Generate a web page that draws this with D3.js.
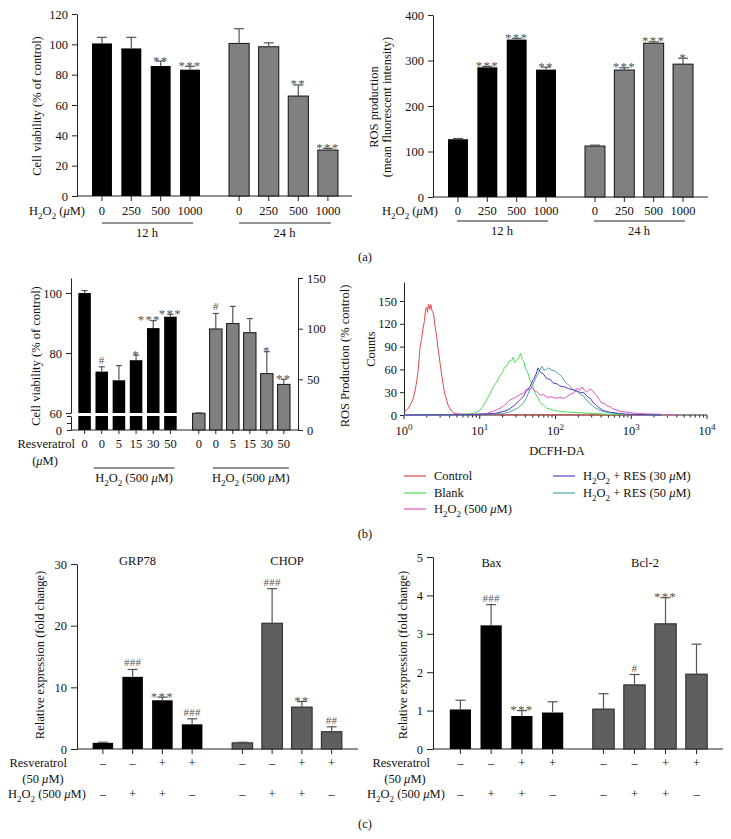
<!DOCTYPE html>
<html><head><meta charset="utf-8">
<script src="https://cdn.jsdelivr.net/npm/d3@7"></script>
<style>
body{margin:0;background:#fff}
text{font-family:"Liberation Serif","Times New Roman",serif;fill:#111}
</style>
</head><body>
<svg id="c" width="731" height="839"></svg>
<script>
// ---------------- DATA ----------------
// (a) left: cell viability
const aDoseLabels = ["0","250","500","1000"];
const aViabTicks = [0,20,40,60,80,100,120];
const aViab12 = [100.6, 97.3, 85.7, 83.3];
const aViab12Err = [4, 7.3, 3.3, 2.2];
const aViab12Sig = ["", "", "**", "***"];
const aViab24 = [100.6, 98.4, 65.9, 30.3];
const aViab24Err = [9.7, 2.6, 7.3, 1.1];
const aViab24Sig = ["", "", "**", "***"];
// (a) right: ROS production
const aRosTicks = [0,100,200,300,400];
const aRos12 = [127, 285, 346, 280];
const aRos12Err = [1.5, 2, 2.5, 5.5];
const aRos12Sig = ["", "***", "***", "**"];
const aRos24 = [112, 279, 338, 292];
const aRos24Err = [2, 5, 3, 13];
const aRos24Sig = ["", "***", "***", "*"];
// (b) left: viability (broken left axis) and ROS (right axis)
const bResLabels = ["0","0","5","15","30","50"];
const bViabTicks = [60,80,100];
const bViab = [100, 73.8, 70.9, 77.6, 88.3, 92.1];
const bViabErr = [0.8, 1.6, 4.9, 1.7, 2.5, 0.8];
const bViabSig = ["", "#", "", "*", "***", "***"];
const bRosTicks = [0,50,100,150];
const bRos = [16.5, 99.7, 105, 96, 55.6, 45];
const bRosErr = [0.5, 15.3, 17, 14, 21.7, 5];
const bRosSig = ["", "#", "", "", "*", "**"];
// (b) right: flow cytometry histograms [log10 intensity, counts]
const flowYTicks = [0,30,60,90,120,150];
const flowCtrl = [[0,4],[0.03,6],[0.06,9],[0.09,15],[0.12,21],[0.15,34],[0.17,46],[0.19,61],[0.21,88],[0.23,99],[0.25,113],[0.27,124],[0.285,139],[0.3,142],[0.31,135],[0.325,146],[0.34,139],[0.355,145],[0.37,137],[0.39,133],[0.41,117],[0.43,104],[0.45,87],[0.475,69],[0.5,51],[0.52,38],[0.54,27],[0.56,21],[0.585,12],[0.61,8],[0.63,5],[0.65,3],[0.7,1.5],[0.8,1],[0.9,0.6],[1.2,0.4],[1.6,0.3],[2.2,0.2],[3.5,0]];
const flowBlank = [[0,0],[0.6,0.3],[0.8,1],[0.9,2],[0.95,3],[1.0,6],[1.04,11],[1.09,20],[1.13,27],[1.18,37],[1.22,43],[1.27,52],[1.3,56],[1.33,63],[1.36,65],[1.39,71],[1.42,72],[1.44,76],[1.46,69],[1.49,72],[1.51,75],[1.54,81],[1.56,73],[1.58,71],[1.6,62],[1.63,57],[1.66,47],[1.69,41],[1.73,29],[1.76,24],[1.8,16],[1.84,13],[1.88,9],[1.93,8],[1.97,6],[2.06,5],[2.15,4],[2.32,3],[2.5,2],[2.68,1],[2.9,0.5],[3.3,0.2],[3.5,0]];
const flowH2O2 = [[0,0],[0.74,0.5],[0.95,1],[1.09,2],[1.18,5],[1.27,9],[1.33,13],[1.4,20],[1.47,23],[1.53,27],[1.58,29],[1.62,34],[1.66,33],[1.69,36],[1.72,32],[1.75,31],[1.8,26],[1.84,27],[1.9,23],[1.95,24],[2.0,22],[2.06,23],[2.12,22],[2.19,27],[2.24,29],[2.28,35],[2.32,33],[2.35,37],[2.39,32],[2.41,30],[2.45,34],[2.48,33],[2.51,29],[2.54,26],[2.58,20],[2.61,16],[2.65,15],[2.68,12],[2.72,11],[2.76,8],[2.8,7],[2.85,5],[2.92,4],[2.98,3],[3.1,2],[3.2,1.5],[3.35,1],[3.47,0.5],[3.6,0]];
const flowRes30 = [[0,0],[0.9,0.5],[1.0,1],[1.2,2],[1.36,6],[1.45,12],[1.53,20],[1.58,25],[1.62,32],[1.66,37],[1.71,47],[1.74,53],[1.77,62],[1.8,56],[1.84,54],[1.88,48],[1.93,47],[1.97,42],[2.02,41],[2.06,38],[2.12,37],[2.19,34],[2.25,33],[2.32,30],[2.38,29],[2.42,24],[2.46,22],[2.5,16],[2.54,13],[2.58,9],[2.63,6],[2.7,4],[2.76,3],[2.85,2],[2.94,1],[3.1,0.5],[3.4,0]];
const flowRes50 = [[0,0],[0.9,0.5],[1.1,1],[1.3,2],[1.4,4],[1.5,9],[1.58,16],[1.62,23],[1.66,34],[1.7,40],[1.75,51],[1.78,57],[1.82,64],[1.85,59],[1.88,60],[1.91,62],[1.95,59],[1.99,58],[2.04,54],[2.08,51],[2.13,43],[2.19,38],[2.24,32],[2.28,31],[2.32,28],[2.37,25],[2.41,19],[2.46,15],[2.5,11],[2.55,8],[2.59,6],[2.66,4],[2.72,3],[2.8,2],[2.89,1],[3.1,0.5],[3.4,0]];
const flowNames = ["Control","Blank","H_2O_2 (500 ~μ~M)","H_2O_2 + RES (30 ~μ~M)","H_2O_2 + RES (50 ~μ~M)"];
const flowColors = ["#e04848","#4ee04e","#e055c4","#5a3cc4","#4aa8a8"];
// (c) left: ER stress genes
const cLeftTicks = [0,10,20,30];
const cGRP78 = [1.0, 11.7, 7.9, 4.0];
const cGRP78Err = [0.1, 1.2, 0.5, 0.9];
const cGRP78Sig = ["", "###", "***", "###"];
const cCHOP = [1.0, 20.4, 6.8, 2.8];
const cCHOPErr = [0.1, 5.6, 0.9, 0.8];
const cCHOPSig = ["", "###", "**", "##"];
// (c) right: apoptosis genes
const cRightTicks = [0,1,2,3,4,5];
const cBax = [1.03, 3.22, 0.86, 0.95];
const cBaxErr = [0.24, 0.54, 0.14, 0.28];
const cBaxSig = ["", "###", "***", ""];
const cBcl2 = [1.04, 1.67, 3.26, 1.95];
const cBcl2Err = [0.4, 0.27, 0.68, 0.78];
const cBcl2Sig = ["", "#", "***", ""];
const cResSigns = ["–","–","+","+"];
const cH2O2Signs = ["–","+","+","–"];

// ---------------- HELPERS ----------------
const svg = d3.select('#c');
svg.append('rect').attr('width',731).attr('height',839).attr('fill','#fff');
const FS = 12.5;
const ERR = '#555';
const fmtInt = d3.format('d');

function rich(t, s, size) {
  let italic = false, buf = '', pend = 0;
  const flush = () => {
    if (!buf) return;
    const sp = t.append('tspan').text(buf);
    if (italic) sp.attr('font-style','italic');
    if (pend) { sp.attr('dy', pend); pend = 0; }
    buf = '';
  };
  for (let i = 0; i < s.length; i++) {
    const c = s[i];
    if (c === '~') { flush(); italic = !italic; }
    else if (c === '_' || c === '^') {
      flush();
      const d = c === '_' ? size*0.28 : -size*0.42;
      const sp = t.append('tspan').attr('font-size', size*0.72).attr('dy', d + pend).text(s[++i]);
      if (italic) sp.attr('font-style','italic');
      pend = -d;
    } else buf += c;
  }
  flush();
}
function txt(x, y, s, o = {}) {
  const size = o.size || FS;
  const t = svg.append('text').attr('x', x).attr('y', y).attr('font-size', size)
    .attr('text-anchor', o.anchor || 'start');
  if (o.fill) t.style('fill', o.fill);
  if (o.rotate) t.attr('transform', `rotate(${o.rotate},${x},${y})`);
  rich(t, s, size);
  return t;
}
function styleAxis(g) {
  g.attr('font-size', FS).attr('font-family', null);
  g.selectAll('text').style('fill', '#111');
  g.selectAll('line,path').attr('stroke', '#222');
}
function hline(x1, x2, y, col = '#222') {
  svg.append('line').attr('x1', x1).attr('x2', x2).attr('y1', y).attr('y2', y).attr('stroke', col).attr('stroke-width', 1);
}
function xTicks(xb, y0, len = 5) {
  svg.append('g').selectAll('line').data(xb.domain()).join('line')
    .attr('x1', d => xb(d) + xb.bandwidth()/2).attr('x2', d => xb(d) + xb.bandwidth()/2)
    .attr('y1', y0).attr('y2', y0 + len).attr('stroke', '#222');
}
function sigText(g, data, cx, capY) {
  g.selectAll('text.sig').data(data).join('text').attr('class','sig')
    .attr('x', (d,i) => cx(i)).attr('y', (d,i) => d.includes('*') ? capY(i) + 3.5 : capY(i) - 3)
    .attr('text-anchor','middle').attr('font-size', d => d.includes('*') ? 13 : 11)
    .attr('letter-spacing', d => d.includes('*') ? 1.2 : 0.3)
    .style('fill', '#555').text(d => d);
}
function bars(xb, y, vals, errs, sigs, fill, stroke, capW, y0) {
  const g = svg.append('g');
  const idx = d3.range(vals.length);
  const cx = i => xb(i) + xb.bandwidth()/2;
  g.selectAll('rect').data(idx).join('rect')
    .attr('x', i => xb(i)).attr('width', xb.bandwidth())
    .attr('y', i => y(vals[i])).attr('height', i => y0 - y(vals[i]))
    .attr('fill', fill).attr('stroke', stroke).attr('stroke-width', stroke ? 1 : 0);
  g.selectAll('line.e').data(idx).join('line').attr('class','e')
    .attr('x1', cx).attr('x2', cx).attr('y1', i => y(vals[i])).attr('y2', i => y(vals[i] + errs[i]))
    .attr('stroke', ERR).attr('stroke-width', 1.2);
  g.selectAll('line.c').data(idx).join('line').attr('class','c')
    .attr('x1', i => cx(i) - capW).attr('x2', i => cx(i) + capW)
    .attr('y1', i => y(vals[i] + errs[i])).attr('y2', i => y(vals[i] + errs[i]))
    .attr('stroke', ERR).attr('stroke-width', 1.2);
  sigText(g, sigs, cx, i => y(vals[i] + errs[i]));
  return cx;
}
function band(r0, r1, n = 4, pin = 0.32) {
  return d3.scaleBand().domain(d3.range(n)).range([r0, r1]).paddingInner(pin).paddingOuter(pin/2);
}

// ---------------- PANEL (a) LEFT ----------------
{
  const y = d3.scaleLinear().domain([0,120]).range([196,14]);
  svg.append('g').attr('transform','translate(77,0)')
    .call(d3.axisLeft(y).tickValues(aViabTicks).tickFormat(fmtInt).tickSize(5).tickSizeOuter(0).tickPadding(4)).call(styleAxis);
  hline(77, 352, 196);
  const x1 = band(87.3, 204.7), x2 = band(224.3, 342.7);
  xTicks(x1, 196); xTicks(x2, 196);
  const c1 = bars(x1, y, aViab12, aViab12Err, aViab12Sig, '#000', null, 5, 196);
  const c2 = bars(x2, y, aViab24, aViab24Err, aViab24Sig, '#808080', '#111', 5, 196);
  aDoseLabels.forEach((d,i) => { txt(c1(i), 215, d, {anchor:'middle'}); txt(c2(i), 215, d, {anchor:'middle'}); });
  txt(85, 215, "H_2O_2 (~μ~M)", {anchor:'end'});
  hline(c1(0), c1(3) + 3, 223); hline(c2(0), c2(3) + 3, 223);
  txt((c1(0)+c1(3))/2 + 1, 237, "12 h", {anchor:'middle'});
  txt((c2(0)+c2(3))/2 + 1, 237, "24 h", {anchor:'middle'});
  txt(41, 106, "Cell viability (% of control)", {anchor:'middle', rotate:-90});
}
// ---------------- PANEL (a) RIGHT ----------------
{
  const y = d3.scaleLinear().domain([0,400]).range([197,15]);
  svg.append('g').attr('transform','translate(433,0)')
    .call(d3.axisLeft(y).tickValues(aRosTicks).tickFormat(fmtInt).tickSize(5).tickSizeOuter(0).tickPadding(4)).call(styleAxis);
  hline(433, 708, 197);
  const x1 = band(443.3, 560.7), x2 = band(580.3, 697.7);
  xTicks(x1, 197); xTicks(x2, 197);
  const c1 = bars(x1, y, aRos12, aRos12Err, aRos12Sig, '#000', null, 5, 197);
  const c2 = bars(x2, y, aRos24, aRos24Err, aRos24Sig, '#808080', '#111', 5, 197);
  aDoseLabels.forEach((d,i) => { txt(c1(i), 215, d, {anchor:'middle'}); txt(c2(i), 215, d, {anchor:'middle'}); });
  txt(438, 215, "H_2O_2 (~μ~M)", {anchor:'end'});
  hline(c1(0) - 1, c1(3) + 2, 221); hline(c2(0) - 1, c2(3) + 2, 221);
  txt((c1(0)+c1(3))/2, 235, "12 h", {anchor:'middle'});
  txt((c2(0)+c2(3))/2, 235, "24 h", {anchor:'middle'});
  txt(378, 107, "ROS production", {anchor:'middle', rotate:-90});
  txt(391, 107, "(mean fluorescent intensity)", {anchor:'middle', rotate:-90});
}
txt(365, 261, "(a)", {anchor:'middle'});

// ---------------- PANEL (b) LEFT ----------------
{
  const yU = d3.scaleLinear().domain([60,105]).range([413,278]);
  const yL = d3.scaleLinear().domain([0,60]).range([430,416]);
  const yR = d3.scaleLinear().domain([0,150]).range([430,278]);
  svg.append('g').attr('transform','translate(71,0)')
    .call(d3.axisLeft(yU).tickValues(bViabTicks).tickFormat(fmtInt).tickSize(5).tickSizeOuter(0).tickPadding(4)).call(styleAxis);
  svg.append('g').attr('transform','translate(71,0)')
    .call(d3.axisLeft(yL).tickValues([0,30,60]).tickFormat(d => d === 0 ? '0' : '').tickSize(4).tickSizeOuter(0).tickPadding(5)).call(styleAxis);
  svg.append('g').attr('transform','translate(298,0)')
    .call(d3.axisRight(yR).tickValues(bRosTicks).tickFormat(fmtInt).tickSize(5).tickSizeOuter(0).tickPadding(4)).call(styleAxis);
  hline(71, 298, 430);
  const xb = band(76, 179, 6, 0.27), xg = band(190.3, 292.3, 6, 0.27);
  xTicks(xb, 430, 4); xTicks(xg, 430, 4);
  const cb = i => xb(i) + xb.bandwidth()/2;
  const g = svg.append('g');
  const idx = d3.range(bViab.length);
  g.selectAll('rect.u').data(idx).join('rect').attr('class','u')
    .attr('x', i => xb(i)).attr('width', xb.bandwidth())
    .attr('y', i => yU(bViab[i])).attr('height', i => yU(60) - yU(bViab[i])).attr('fill', '#000');
  g.selectAll('rect.l').data(idx).join('rect').attr('class','l')
    .attr('x', i => xb(i)).attr('width', xb.bandwidth())
    .attr('y', yL(60)).attr('height', yL(0) - yL(60)).attr('fill', '#000');
  g.selectAll('line.e').data(idx).join('line').attr('class','e')
    .attr('x1', cb).attr('x2', cb).attr('y1', i => yU(bViab[i])).attr('y2', i => yU(bViab[i] + bViabErr[i]))
    .attr('stroke', ERR).attr('stroke-width', 1.2);
  g.selectAll('line.c').data(idx).join('line').attr('class','c')
    .attr('x1', i => cb(i) - 3).attr('x2', i => cb(i) + 3)
    .attr('y1', i => yU(bViab[i] + bViabErr[i])).attr('y2', i => yU(bViab[i] + bViabErr[i]))
    .attr('stroke', ERR).attr('stroke-width', 1.2);
  sigText(g, bViabSig, i => i === 4 ? cb(i) - 4 : cb(i), i => yU(bViab[i] + bViabErr[i]));
  const cg = bars(xg, yR, bRos, bRosErr, bRosSig, '#808080', '#111', 3, 430);
  bResLabels.forEach((d,i) => { txt(cb(i), 448, d, {anchor:'middle'}); txt(cg(i), 448, d, {anchor:'middle'}); });
  txt(75, 448, "Resveratrol", {anchor:'end'});
  txt(45, 465, "(~μ~M)", {anchor:'middle'});
  hline(cb(1) - 8, cb(5) + 4, 468); hline(cg(1) - 3, cg(5) + 5, 468);
  txt((cb(1)+cb(5))/2 - 2, 482, "H_2O_2 (500 ~μ~M)", {anchor:'middle'});
  txt((cg(1)+cg(5))/2 + 1, 482, "H_2O_2 (500 ~μ~M)", {anchor:'middle'});
  txt(40, 356, "Cell viability (% of control)", {anchor:'middle', rotate:-90});
  txt(349, 356, "ROS Production (% control)", {anchor:'middle', rotate:-90});
}
// ---------------- PANEL (b) RIGHT: flow ----------------
{
  const x = d3.scaleLog().domain([1, 10000]).range([404, 707]);
  const y = d3.scaleLinear().domain([0,175]).range([415,282]);
  svg.append('g').attr('transform','translate(404,0)')
    .call(d3.axisLeft(y).tickValues(flowYTicks).tickFormat(fmtInt).tickSize(4).tickSizeOuter(0).tickPadding(3)).call(styleAxis);
  hline(404, 707, 415);
  const tks = x.ticks();
  svg.append('g').selectAll('line').data(tks).join('line')
    .attr('x1', d => x(d)).attr('x2', d => x(d)).attr('y1', 415)
    .attr('y2', d => Number.isInteger(Math.log10(d)) ? 419 : 417.5).attr('stroke', '#222');
  tks.filter(d => Number.isInteger(Math.log10(d))).forEach(d => txt(x(d), 435, "10^" + Math.round(Math.log10(d)), {anchor:'middle'}));
  txt(557, 455, "DCFH-DA", {anchor:'middle'});
  txt(375, 349, "Counts", {anchor:'middle', rotate:-90});
  const line = d3.line().x(d => x(Math.pow(10, d[0]))).y(d => y(d[1]));
  const series = [flowCtrl, flowBlank, flowH2O2, flowRes30, flowRes50];
  const order = [0,1,2,4,3];
  order.forEach(k => svg.append('path').datum(series[k]).attr('d', line)
    .attr('fill','none').attr('stroke', flowColors[k]).attr('stroke-width', 1));
  const lx = [404, 404, 404, 553, 553], ly = [480, 497, 513, 480, 497];
  flowNames.forEach((n,i) => {
    svg.append('line').attr('x1', lx[i]).attr('x2', lx[i] + 22).attr('y1', ly[i] - 4).attr('y2', ly[i] - 4)
      .attr('stroke', flowColors[i]).attr('stroke-width', 1.2);
    txt(lx[i] + 30, ly[i], n);
  });
}
txt(365, 538, "(b)", {anchor:'middle'});

// ---------------- PANEL (c) LEFT ----------------
{
  const y = d3.scaleLinear().domain([0,30]).range([749,564]);
  svg.append('g').attr('transform','translate(77,0)')
    .call(d3.axisLeft(y).tickValues(cLeftTicks).tickFormat(fmtInt).tickSize(6).tickSizeOuter(0).tickPadding(4)).call(styleAxis);
  hline(77, 358, 749);
  const x1 = band(88, 207, 4, 0.31), x2 = band(227.5, 346.5, 4, 0.31);
  xTicks(x1, 749); xTicks(x2, 749);
  const c1 = bars(x1, y, cGRP78, cGRP78Err, cGRP78Sig, '#000', null, 5, 749);
  const c2 = bars(x2, y, cCHOP, cCHOPErr, cCHOPSig, '#5f5f5f', '#222', 5, 749);
  txt((c1(0)+c1(3))/2 - 10, 565, "GRP78", {anchor:'middle'});
  txt((c2(0)+c2(3))/2, 565, "CHOP", {anchor:'middle'});
  [c1, c2].forEach(c => d3.range(4).forEach(i => {
    txt(c(i), 767, cResSigns[i], {anchor:'middle'});
    txt(c(i), 798, cH2O2Signs[i], {anchor:'middle'});
  }));
  txt(67, 767, "Resveratrol", {anchor:'end'});
  txt(43, 783, "(50 ~μ~M)", {anchor:'middle'});
  txt(8, 798, "H_2O_2 (500 ~μ~M)");
  txt(44, 655, "Relative expression (fold change)", {anchor:'middle', rotate:-90});
}
// ---------------- PANEL (c) RIGHT ----------------
{
  const y = d3.scaleLinear().domain([0,5]).range([749,557]);
  svg.append('g').attr('transform','translate(433,0)')
    .call(d3.axisLeft(y).tickValues(cRightTicks).tickFormat(fmtInt).tickSize(6).tickSizeOuter(0).tickPadding(4)).call(styleAxis);
  hline(433, 723, 749);
  const x1 = band(445, 568, 4, 0.31), x2 = band(588, 712, 4, 0.31);
  xTicks(x1, 749); xTicks(x2, 749);
  const c1 = bars(x1, y, cBax, cBaxErr, cBaxSig, '#000', null, 5, 749);
  const c2 = bars(x2, y, cBcl2, cBcl2Err, cBcl2Sig, '#5f5f5f', '#222', 5, 749);
  txt((c1(0)+c1(3))/2 - 15, 567, "Bax", {anchor:'middle'});
  txt((c2(0)+c2(3))/2 - 5, 567, "Bcl-2", {anchor:'middle'});
  [c1, c2].forEach(c => d3.range(4).forEach(i => {
    txt(c(i), 767, cResSigns[i], {anchor:'middle'});
    txt(c(i), 798, cH2O2Signs[i], {anchor:'middle'});
  }));
  txt(430, 767, "Resveratrol", {anchor:'end'});
  txt(405, 783, "(50 ~μ~M)", {anchor:'middle'});
  txt(367, 798, "H_2O_2 (500 ~μ~M)");
  txt(407, 655, "Relative expression (fold change)", {anchor:'middle', rotate:-90});
}
txt(365, 828, "(c)", {anchor:'middle'});
</script>
</body></html>
